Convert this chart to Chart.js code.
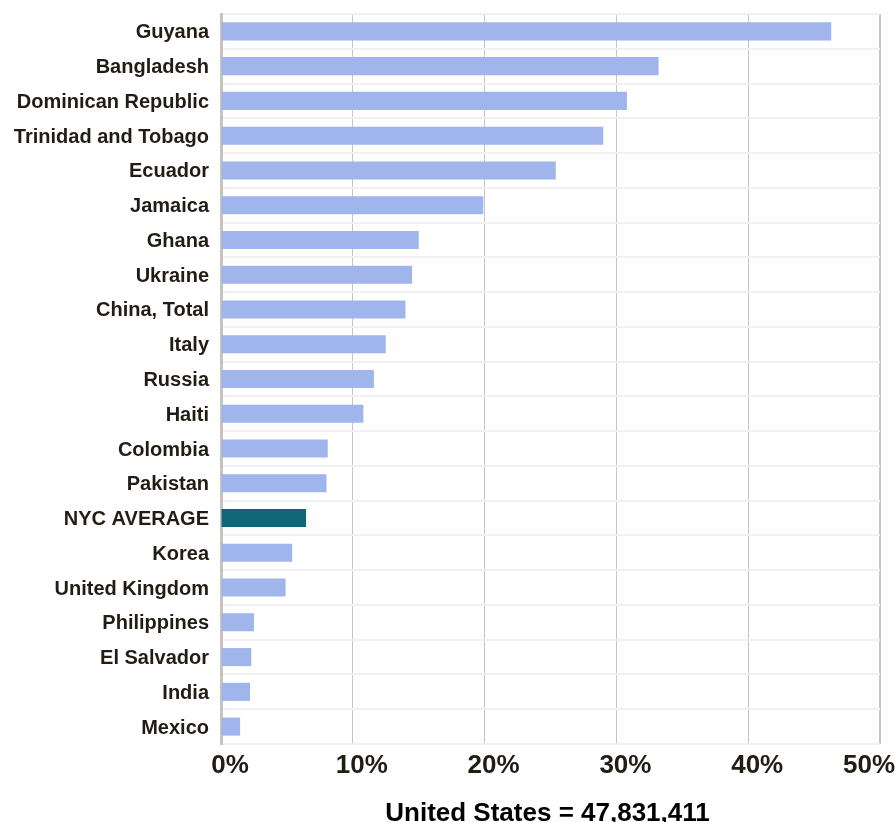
<!DOCTYPE html>
<html>
<head>
<meta charset="utf-8">
<script src="https://cdn.jsdelivr.net/npm/chart.js@4.4.1/dist/chart.umd.min.js"></script>
<style>
  html, body { margin: 0; padding: 0; background: #ffffff; }
  #wrap { width: 895px; height: 822px; position: relative; }
</style>
</head>
<body>
<div id="wrap"><canvas id="c" width="895" height="822"></canvas></div>
<script>
const categories = ["Guyana", "Bangladesh", "Dominican Republic", "Trinidad and Tobago", "Ecuador", "Jamaica", "Ghana", "Ukraine", "China, Total", "Italy", "Russia", "Haiti", "Colombia", "Pakistan", "NYC AVERAGE", "Korea", "United Kingdom", "Philippines", "El Salvador", "India", "Mexico"];
const shareValues = [46.3, 33.2, 30.8, 29.0, 25.4, 19.9, 15.0, 14.5, 14.0, 12.5, 11.6, 10.8, 8.1, 8.0, 6.45, 5.4, 4.9, 2.5, 2.3, 2.2, 1.45];
const highlightCategory = "NYC AVERAGE";
const xTickValues = [0, 10, 20, 30, 40, 50];
const xTickLabels = ["0%", "10%", "20%", "30%", "40%", "50%"];
const chartTitle = "United States = 47,831,411";

const FONT = '"Liberation Sans", Arial, Helvetica, sans-serif';
const TEXT_COLOR = '#231c15';
const BAR_COLOR = '#9fb5ec';
const HIGHLIGHT_COLOR = '#0f6778';

const customText = {
  id: 'customText',
  afterDraw(chart) {
    const ctx = chart.ctx;
    const xs = chart.scales.x;
    const area = chart.chartArea;
    ctx.save();
    ctx.font = 'bold 26px ' + FONT;
    ctx.fillStyle = TEXT_COLOR;
    ctx.textBaseline = 'alphabetic';
    ctx.textAlign = 'left';
    xTickValues.forEach((v, i) => {
      const label = xTickLabels[i];
      const w = ctx.measureText(label).width;
      const cx = xs.getPixelForValue(v) + 9;
      let left = cx - w / 2;
      if (left + w > chart.width) left = chart.width - w;
      ctx.fillText(label, left, 773);
    });
    ctx.fillStyle = '#000000';
    ctx.textAlign = 'center';
    ctx.fillText(chartTitle, (area.left + area.right) / 2 - 3, 820.5);
    ctx.restore();
  }
};

new Chart(document.getElementById('c'), {
  type: 'bar',
  data: {
    labels: categories,
    datasets: [{
      data: shareValues,
      backgroundColor: categories.map(c => c === highlightCategory ? HIGHLIGHT_COLOR : BAR_COLOR),
      borderWidth: 0,
      barPercentage: 0.52,
      categoryPercentage: 1.0
    }]
  },
  options: {
    indexAxis: 'y',
    responsive: false,
    animation: false,
    layout: { padding: { top: 14, right: 15, left: 0, bottom: 0 } },
    plugins: {
      legend: { display: false },
      tooltip: { enabled: false },
      title: { display: false }
    },
    scales: {
      x: {
        type: 'linear',
        min: 0,
        max: 50,
        ticks: { display: false, stepSize: 10 },
        grid: {
          color: '#c9c5bd',
          lineWidth: ctx => (ctx.tick && ctx.tick.value === 50 ? 2 : 1),
          drawTicks: false
        },
        border: { display: false },
        afterFit(scale) {
          scale.height = 78;
          scale.paddingLeft = 0;
          scale.paddingRight = 0;
        }
      },
      y: {
        ticks: {
          color: TEXT_COLOR,
          font: { family: FONT, size: 20, weight: 'bold' },
          padding: 12,
          labelOffset: 1.5
        },
        grid: {
          color: '#f0f0f0',
          lineWidth: 2,
          drawTicks: false,
          offset: true
        },
        border: { display: true, color: '#c8c4bc', width: 3 },
        afterFit(scale) {
          scale.width = 221;
          scale.paddingTop = 0;
          scale.paddingBottom = 0;
        }
      }
    }
  },
  plugins: [customText]
});
</script>
</body>
</html>
